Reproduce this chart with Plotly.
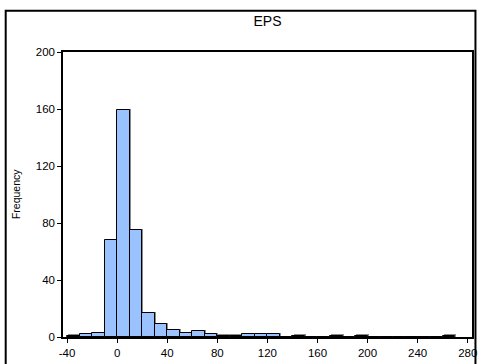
import plotly.graph_objects as go

# Histogram of EPS: bin left edges (width 10) and frequencies
bin_edges = [-40, -30, -20, -10, 0, 10, 20, 30, 40, 50, 60, 70, 80, 90, 100, 110, 120,
             130, 140, 150, 160, 170, 180, 190, 200, 210, 220, 230, 240, 250, 260]
counts = [1, 2, 3, 68, 159, 75, 17, 9, 5, 3, 4, 2, 1, 1, 2, 2, 2,
          0, 1, 0, 0, 1, 0, 1, 0, 0, 0, 0, 0, 0, 1]
bin_width = 10
x_ticks = [-40, 0, 40, 80, 120, 160, 200, 240, 280]
x_tick_labels = ["-40", "0", "40", "80", "120", "160", "200", "240", "280"]
y_ticks = [0, 40, 80, 120, 160, 200]

W, H = 482, 364
L, R, T, B = 63, 5, 52, 21
pw = W - L - R
ph = H - T - B

fig = go.Figure()

# drop shadow (offset slightly right/up)
shadow_y = [c + 0.8 if c > 0 else 0 for c in counts]
fig.add_trace(go.Bar(
    x=bin_edges, y=shadow_y, width=bin_width, offset=0.9,
    marker=dict(color="#8a8a8a", line=dict(width=0)),
    hoverinfo="skip", showlegend=False,
))
fig.add_trace(go.Bar(
    x=bin_edges, y=counts, width=bin_width, offset=0,
    marker=dict(color="#99c2ff", line=dict(color="black", width=1)),
    showlegend=False, name="EPS",
))

fig.update_layout(
    width=W, height=H,
    margin=dict(l=L, r=R, t=T, b=B),
    paper_bgcolor="white", plot_bgcolor="white",
    barmode="overlay", bargap=0,
    font=dict(family="Liberation Sans, Arial, sans-serif", size=11.5, color="black"),
    title=dict(text="EPS", x=0.5, xanchor="center", xref="paper",
               y=1 - 21 / H, yanchor="middle", yref="container",
               font=dict(size=14, color="black")),
    xaxis=dict(range=[-43.2, 283.4], tickvals=x_ticks, ticktext=x_tick_labels,
               ticks="outside", ticklen=4,
               tickwidth=1, tickcolor="black", showgrid=False, zeroline=False,
               showline=True, linecolor="black", linewidth=1.5, mirror=True,
               tickfont=dict(size=11.5)),
    yaxis=dict(range=[0, 200], tickvals=y_ticks, ticks="outside", ticklen=4,
               tickwidth=1, tickcolor="black", showgrid=False, zeroline=False,
               showline=True, linecolor="black", linewidth=1.5, mirror=True,
               tickfont=dict(size=11.5)),
    annotations=[dict(text="Frequency", textangle=-90, xref="paper", yref="paper",
                      x=(15 - L) / pw, y=0.5, xanchor="center", yanchor="middle",
                      showarrow=False, font=dict(size=10.5, color="black"))],
    shapes=[dict(type="rect", xref="paper", yref="paper",
                 x0=(5 - L) / pw, x1=(480.5 - L) / pw,
                 y0=-(B + 10) / ph, y1=1 + (T - 10) / ph,
                 line=dict(color="black", width=2), layer="below")],
)

fig.write_html(
    "out.html", config={"displayModeBar": False},
    post_script=(
        "document.documentElement.style.margin='0';"
        "document.documentElement.style.overflow='hidden';"
        "document.body.style.margin='0';"
        "document.body.style.overflow='hidden';"
    ),
)
